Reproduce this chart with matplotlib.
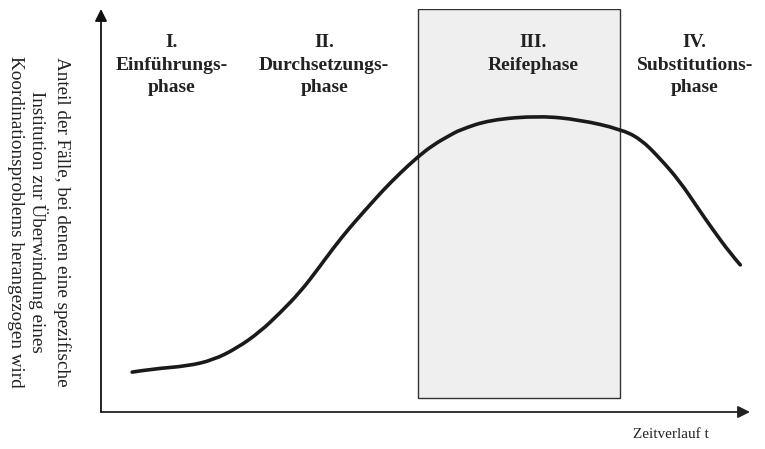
import numpy as np
import matplotlib
matplotlib.use("Agg")
import matplotlib.pyplot as plt
from matplotlib.patches import Rectangle, PathPatch
from matplotlib.path import Path

# curve (time 0..100, share 0..100)
zeit = [4.8, 8.0, 13.3, 17.3, 21.0, 24.5, 27.6, 30.7, 33.3, 35.8,
        38.4, 41.0, 43.5, 46.1, 48.8, 51.2, 53.8, 55.3, 59.9, 67.6,
        73.8, 80.0, 83.1, 86.1, 89.2, 91.8, 94.3, 96.9, 98.5]
anteil = [9.9, 10.7, 11.4, 12.9, 15.9, 19.9, 24.6, 29.8, 35.2, 40.7,
          45.9, 50.6, 55.1, 59.3, 63.3, 66.3, 68.7, 70.0, 72.5, 73.5,
          72.5, 70.2, 67.8, 63.0, 57.2, 51.0, 45.2, 39.5, 36.5]

phasen = ["I.\nEinführungs-\nphase", "II.\nDurchsetzungs-\nphase",
          "III.\nReifephase", "IV.\nSubstitutions-\nphase"]
phasen_x = [10.9, 34.4, 66.6, 91.5]
phasen_y = [86.0, 86.0, 88.8, 86.0]

reife_start, reife_ende = 48.8, 80.0

plt.rcParams['font.family'] = ['Liberation Serif', 'DejaVu Serif']

fig = plt.figure(figsize=(7.65, 4.49), dpi=100)
ax = fig.add_axes([101/765, 37/449, 649/765, 403/449])
ax.set_xlim(0, 100)
ax.set_ylim(0, 100)
ax.axis('off')

ax.add_patch(Rectangle((reife_start, 3.5), reife_ende - reife_start, 96.5,
                       facecolor='#efefef', edgecolor='#333333', lw=1.0, zorder=1))

# smooth path: the read points act as quadratic control points
pts = np.column_stack([zeit, anteil])
verts = [pts[0]]
codes = [Path.MOVETO]
for i in range(1, len(pts) - 1):
    mid = (pts[i] + pts[i + 1]) / 2 if i < len(pts) - 2 else pts[i + 1]
    verts += [pts[i], mid]
    codes += [Path.CURVE3, Path.CURVE3]
ax.add_patch(PathPatch(Path(verts, codes), facecolor='none', edgecolor='#1a1a1a',
                       lw=2.6, capstyle='round', joinstyle='round', zorder=3))

# axes with arrows
ax.annotate('', xy=(100, 0), xytext=(0, 0), annotation_clip=False,
            arrowprops=dict(arrowstyle='-|>', color='#222222', lw=1.3,
                            mutation_scale=18, shrinkA=0, shrinkB=0))
ax.annotate('', xy=(0, 100), xytext=(0, 0), annotation_clip=False,
            arrowprops=dict(arrowstyle='-|>', color='#111111', lw=1.3,
                            mutation_scale=18, shrinkA=0, shrinkB=0))

for txt, x, y in zip(phasen, phasen_x, phasen_y):
    ax.text(x, y, txt, ha='center', va='center', multialignment='center',
            fontsize=14, fontweight='bold', color='#222222', linespacing=1.42,
            zorder=4)

fig.text(39/765, 1 - 222/449,
         "Anteil der Fälle, bei denen eine spezifische\n"
         "Institution zur Überwindung eines\n"
         "Koordinationsproblems herangezogen wird",
         rotation=270, ha='center', va='center', multialignment='center',
         fontsize=13.8, linespacing=1.3, color='#222222')

fig.text(671/765, 1 - 435/449, "Zeitverlauf t", ha='center', va='center',
         fontsize=11, color='#222222')

fig.savefig('out.png', dpi=100)
